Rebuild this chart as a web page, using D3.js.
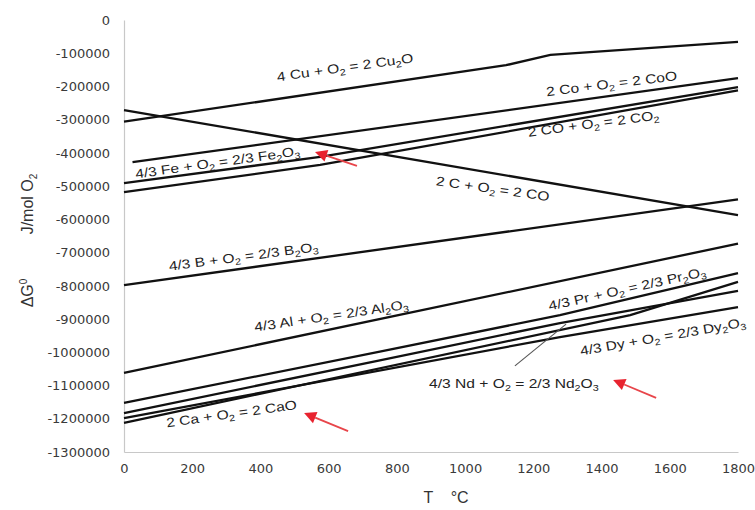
<!DOCTYPE html>
<html>
<head>
<meta charset="utf-8">
<script src="https://cdn.jsdelivr.net/npm/d3@7/dist/d3.min.js"></script>
<style>
  html, body { margin: 0; padding: 0; background: #fff; }
  svg { display: block; font-family: "Liberation Sans", Arial, sans-serif; }
</style>
</head>
<body>
<div id="chart"></div>
<script>
// T in degC, dG0 in J/mol O2
const cu2o  = [[0, -306000], [1120, -136000], [1250, -105000], [1800, -66000]];
const coo   = [[25, -428000], [1800, -175000]];
const fe2o3 = [[0, -491000], [575, -412000], [1800, -202000]];
const co2   = [[0, -518000], [575, -436000], [1800, -212000]];
const co    = [[0, -271000], [1800, -587000]];
const b2o3  = [[0, -798000], [1800, -540000]];
const al2o3 = [[0, -1062000], [1800, -673000]];
const pr2o3 = [[0, -1152000], [750, -998000], [1278, -888000], [1800, -762000]];
const nd2o3 = [[0, -1183000], [750, -1024000], [1278, -912000], [1800, -815000]];
const dy2o3 = [[0, -1198000], [1278, -954000], [1800, -864000]];
const cao   = [[0, -1212000], [1484, -888000], [1800, -788000]];

const xTicks = [0, 200, 400, 600, 800, 1000, 1200, 1400, 1600, 1800];
const yTicks = d3.range(0, -1300001, -100000);

const series = [cu2o, coo, fe2o3, co2, co, b2o3, al2o3, pr2o3, nd2o3, dy2o3, cao];

// labels: text parts [text, subscript?], baseline centre in data units, angle
const labels = [
  {t: [["4 Cu + O"], ["2", 1], [" = 2 Cu"], ["2", 1], ["O"]], at: [650, -156000], rot: -8},
  {t: [["2 Co + O"], ["2", 1], [" = 2 CoO"]], at: [1431, -205000], rot: -7},
  {t: [["2 CO + O"], ["2", 1], [" = 2 CO"], ["2", 1]], at: [1378, -325000], rot: -7.5},
  {t: [["2 C + O"], ["2", 1], [" = 2 CO"]], at: [1079, -521000], rot: 8},
  {t: [["4/3 Fe + O"], ["2", 1], [" = 2/3 Fe"], ["2", 1], ["O"], ["3", 1]], at: [276, -442000], rot: -8},
  {t: [["4/3 B + O"], ["2", 1], [" = 2/3 B"], ["2", 1], ["O"], ["3", 1]], at: [352, -725000], rot: -7.5},
  {t: [["4/3 Al + O"], ["2", 1], [" = 2/3 Al"], ["2", 1], ["O"], ["3", 1]], at: [610, -903000], rot: -8.5},
  {t: [["4/3 Pr + O"], ["2", 1], [" = 2/3 Pr"], ["2", 1], ["O"], ["3", 1]], at: [1478, -822000], rot: -12.5},
  {t: [["4/3 Dy + O"], ["2", 1], [" = 2/3 Dy"], ["2", 1], ["O"], ["3", 1]], at: [1582, -966000], rot: -10},
  {t: [["4/3 Nd + O"], ["2", 1], [" = 2/3 Nd"], ["2", 1], ["O"], ["3", 1]], at: [1143, -1107000], rot: 0},
  {t: [["2 Ca + O"], ["2", 1], [" = 2 CaO"]], at: [317, -1198000], rot: -8}
];

// red arrows [tail, tip]
const arrows = [
  [[683, -439000], [560, -397000]],
  [[657, -1237000], [528, -1183000]],
  [[1560, -1137000], [1434, -1083000]]
];
const ndLeader = [[1146, -1041000], [1296, -915000]];

const W = 755, H = 510;
const margin = {left: 124, right: 17, top: 20, bottom: 58};

const svg = d3.select("#chart").append("svg")
  .attr("width", W).attr("height", H);

const x = d3.scaleLinear().domain([0, 1800]).range([margin.left, W - margin.right]);
const y = d3.scaleLinear().domain([-1300000, 0]).range([H - margin.bottom, margin.top]);

// axes
const gx = svg.append("g").attr("transform", `translate(0,${y(-1300000)})`)
  .call(d3.axisBottom(x).tickValues(xTicks).tickSize(0).tickPadding(12).tickFormat(d => String(d)));
const gy = svg.append("g").attr("transform", `translate(${x(0)},0)`)
  .call(d3.axisLeft(y).tickValues(yTicks).tickSize(0).tickPadding(14).tickFormat(d => String(d)));
[gx, gy].forEach(g => {
  g.select(".domain").attr("stroke", "#c8c8c8").attr("stroke-width", 1.2);
  g.selectAll("text").attr("font-size", 13).attr("fill", "#3a3a3a")
    .attr("font-family", "DejaVu Sans, sans-serif");
});

// lines
const line = d3.line().x(d => x(d[0])).y(d => y(d[1]));
svg.append("g").selectAll("path").data(series).enter().append("path")
  .attr("d", line).attr("fill", "none").attr("stroke", "#111").attr("stroke-width", 2.3);

svg.append("line")
  .attr("x1", x(ndLeader[0][0])).attr("y1", y(ndLeader[0][1]))
  .attr("x2", x(ndLeader[1][0])).attr("y2", y(ndLeader[1][1]))
  .attr("stroke", "#555").attr("stroke-width", 1.1);

// line labels
labels.forEach(l => {
  const t = svg.append("text")
    .attr("transform", `translate(${x(l.at[0])},${y(l.at[1])}) rotate(${l.rot}) scale(1.2,1)`)
    .attr("text-anchor", "middle").attr("font-size", 13).attr("fill", "#222");
  let low = false;
  l.t.forEach(p => {
    const s = t.append("tspan").text(p[0]);
    if (p[1]) { s.attr("font-size", 9).attr("dy", 3); low = true; }
    else if (low) { s.attr("dy", -3); low = false; }
  });
});

// red arrows
const arr = svg.append("g");
arrows.forEach(a => {
  const x1 = x(a[0][0]), y1 = y(a[0][1]), x2 = x(a[1][0]), y2 = y(a[1][1]);
  const ang = Math.atan2(y2 - y1, x2 - x1), hl = 12, hw = 6;
  const bx = x2 - hl * Math.cos(ang), by = y2 - hl * Math.sin(ang);
  arr.append("line").attr("x1", x1).attr("y1", y1).attr("x2", bx).attr("y2", by)
    .attr("stroke", "#e8454a").attr("stroke-width", 1.8);
  arr.append("path")
    .attr("d", `M${x2},${y2}L${bx + hw * Math.sin(ang)},${by - hw * Math.cos(ang)}L${bx - hw * Math.sin(ang)},${by + hw * Math.cos(ang)}Z`)
    .attr("fill", "#e8232f");
});

// axis titles
svg.append("text").attr("x", 446).attr("y", 503).attr("text-anchor", "middle")
  .attr("font-size", 16).attr("fill", "#333").attr("xml:space", "preserve")
  .text("T    °C");
const yt1 = svg.append("text")
  .attr("transform", `translate(33,293) rotate(-90)`)
  .attr("text-anchor", "middle").attr("font-size", 16).attr("fill", "#333");
yt1.append("tspan").text("ΔG");
yt1.append("tspan").text("0").attr("font-size", 10).attr("dy", -6);
const yt2 = svg.append("text")
  .attr("transform", `translate(33,204) rotate(-90)`)
  .attr("text-anchor", "middle").attr("font-size", 16).attr("fill", "#333");
yt2.append("tspan").text("J/mol O");
yt2.append("tspan").text("2").attr("font-size", 10).attr("dy", 4);
</script>
</body>
</html>
